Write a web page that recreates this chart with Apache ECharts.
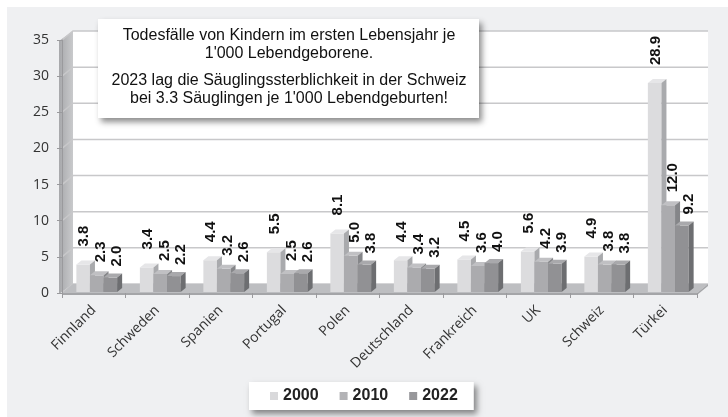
<!DOCTYPE html>
<html>
<head>
<meta charset="utf-8">
<script src="https://cdn.jsdelivr.net/npm/echarts@6/dist/echarts.min.js"></script>
<style>
  html, body { margin: 0; padding: 0; background: #ffffff; }
  #chart { width: 728px; height: 417px; }
</style>
</head>
<body>
<div id="chart"></div>
<script>
// Säuglingssterblichkeit je 1'000 Lebendgeborene
var countries = ['Finnland', 'Schweden', 'Spanien', 'Portugal', 'Polen', 'Deutschland', 'Frankreich', 'UK', 'Schweiz', 'Türkei'];
var years = ['2000', '2010', '2022'];
var values2000 = [3.8, 3.4, 4.4, 5.5, 8.1, 4.4, 4.5, 5.6, 4.9, 28.9];
var values2010 = [2.3, 2.5, 3.2, 2.5, 5.0, 3.4, 3.6, 4.2, 3.8, 12.0];
var values2022 = [2.0, 2.2, 2.6, 2.6, 3.8, 3.2, 4.0, 3.9, 3.8, 9.2];
var yTicks = [0, 5, 10, 15, 20, 25, 30, 35];

var infoLines = [
  "Todesfälle von Kindern im ersten Lebensjahr je",
  "1'000 Lebendgeborene.",
  "2023 lag die Säuglingssterblichkeit in der Schweiz",
  "bei 3.3 Säuglingen je 1'000 Lebendgeburten!"
];

var chart = echarts.init(document.getElementById('chart'))

// 3D-Tiefe der Wand / des Bodens
var WX = 11, WY = -9
// 3D-Tiefe der Säulen
var BX = 5, BY = -4

function renderWall (params, api) {
  var cs = params.coordSys
  var x0 = cs.x, x1 = cs.x + cs.width
  var yb = cs.y + cs.height, yt = cs.y
  var children = []
  // Rückwand
  children.push({
    type: 'rect',
    shape: { x: x0 + WX, y: yt + WY, width: x1 - x0, height: yb - yt },
    style: { fill: '#ffffff' }
  })
  // linke Wand
  children.push({
    type: 'polygon',
    shape: { points: [[x0 - 3, yt + 1], [x0 + WX, yt + WY], [x0 + WX, yb + WY], [x0 - 3, yb + 1]] },
    style: { fill: new echarts.graphic.LinearGradient(0, 0, 1, 0, [
      { offset: 0, color: '#a7a8ab' }, { offset: 1, color: '#c9cacc' }
    ]) }
  })
  // Gitterlinien
  yTicks.forEach(function (t) {
    var y = api.coord([0, t])[1]
    children.push({
      type: 'polyline',
      shape: { points: [[x0, y], [x0 + WX, y + WY], [x1 + WX, y + WY]] },
      style: { stroke: '#c8c8ca', lineWidth: 1.5, fill: null }
    })
  })
  // Boden
  children.push({
    type: 'polygon',
    shape: { points: [[x0, yb], [x0 + WX, yb + WY], [x1 + WX, yb + WY], [x1, yb]] },
    style: { fill: '#bdbec1' }
  })
  children.push({
    type: 'polygon',
    shape: { points: [[x1, yb], [x1 + WX, yb + WY], [x1 + WX, yb + WY + 2], [x1, yb + 2]] },
    style: { fill: '#a4a5a8' }
  })
  children.push({
    type: 'rect',
    shape: { x: x0, y: yb, width: x1 - x0, height: 2 },
    style: { fill: '#a4a5a8' }
  })
  return { type: 'group', children: children }
}

function makeBarRender (slot, front, top, side, labelGap, labelShift) {
  return function (params, api) {
    var idx = api.value(0)
    var val = api.value(1)
    var base = api.coord([idx, 0])
    var tip = api.coord([idx, val])
    var bw = api.size([1, 0])[0] * 0.214
    var left = base[0] + 3 - 1.5 * bw + slot * bw
    var yb = base[1] - 1
    var yt = tip[1] - 1
    return {
      type: 'group',
      children: [
        {
          type: 'rect',
          shape: { x: left, y: yt, width: bw, height: yb - yt },
          style: { fill: front }
        },
        {
          type: 'polygon',
          shape: { points: [[left, yt], [left + BX, yt + BY], [left + bw + BX, yt + BY], [left + bw, yt]] },
          style: { fill: top }
        },
        {
          type: 'polygon',
          shape: { points: [[left + bw, yt], [left + bw + BX, yt + BY], [left + bw + BX, yb + BY], [left + bw, yb]] },
          style: { fill: side }
        },
        {
          type: 'text',
          x: left + bw / 2 + labelShift,
          y: yt + BY - labelGap,
          rotation: Math.PI / 2,
          style: {
            text: val.toFixed(1),
            font: 'bold 15px "Liberation Sans", Arial, sans-serif',
            fill: '#111111',
            align: 'left',
            verticalAlign: 'middle'
          }
        }
      ]
    }
  }
}

function pairs (arr) {
  return arr.map(function (v, i) { return [i, v] })
}

var boxFont = '16px "Liberation Sans", Arial, sans-serif'
function infoText (line, y) {
  return {
    type: 'text',
    zlevel: 1,
    z: 101,
    x: 289,
    y: y,
    style: { text: line, font: boxFont, fill: '#111', align: 'center', verticalAlign: 'middle' }
  }
}

var option = {
  backgroundColor: '#ffffff',
  animation: false,
  graphic: [
    {
      type: 'rect',
      z: -10,
      shape: { x: 7, y: 7, width: 721, height: 410 },
      style: { fill: '#eff0f2' }
    },
    {
      type: 'rect',
      zlevel: 1,
      z: 100,
      shape: { x: 98, y: 19, width: 381, height: 99 },
      style: {
        fill: '#ffffff',
        shadowBlur: 6,
        shadowOffsetX: 3,
        shadowOffsetY: 4,
        shadowColor: 'rgba(0,0,0,0.45)'
      }
    },
    infoText(infoLines[0], 36),
    infoText(infoLines[1], 54),
    infoText(infoLines[2], 81),
    infoText(infoLines[3], 99)
  ],
  legend: {
    data: years,
    left: 249,
    top: 382,
    padding: [6, 16, 6, 21],
    itemWidth: 8,
    itemHeight: 8,
    itemGap: 21,
    icon: 'rect',
    backgroundColor: '#ffffff',
    shadowBlur: 6,
    shadowOffsetX: 3,
    shadowOffsetY: 4,
    shadowColor: 'rgba(0,0,0,0.45)',
    textStyle: {
      fontFamily: '"Liberation Sans", Arial, sans-serif',
      fontWeight: 'bold',
      fontSize: 16,
      color: '#222222'
    },
    selectedMode: false
  },
  grid: {
    left: 62,
    top: 40,
    width: 635,
    height: 253,
    outerBoundsMode: 'none'
  },
  xAxis: {
    type: 'category',
    data: countries,
    axisLine: { show: false },
    axisTick: { show: true, length: 5, lineStyle: { color: '#9a9a9d' } },
    axisLabel: {
      rotate: 45,
      margin: 15,
      interval: 0,
      fontFamily: '"Open Sans", sans-serif',
      fontSize: 14,
      color: '#333333'
    },
    splitLine: { show: false }
  },
  yAxis: {
    type: 'value',
    min: 0,
    max: 35,
    interval: 5,
    axisLine: { show: true, lineStyle: { color: '#9a9a9d' } },
    axisTick: { show: true, length: 5, lineStyle: { color: '#9a9a9d' } },
    axisLabel: {
      margin: 13,
      fontFamily: '"Open Sans", sans-serif',
      fontSize: 14,
      color: '#333333'
    },
    splitLine: { show: false }
  },
  series: [
    {
      name: 'wall',
      type: 'custom',
      silent: true,
      z: 0,
      renderItem: renderWall,
      data: [[0, 0]]
    },
    {
      name: '2000',
      type: 'custom',
      z: 2,
      itemStyle: { color: '#d9d9db' },
      renderItem: makeBarRender(0, '#dcdcde', '#e6e6e8', '#a9aaad', 14, 1),
      data: pairs(values2000)
    },
    {
      name: '2010',
      type: 'custom',
      z: 2,
      itemStyle: { color: '#b3b3b6' },
      renderItem: makeBarRender(1, '#ababae', '#c0c0c3', '#858689', 9, 4.5),
      data: pairs(values2010)
    },
    {
      name: '2022',
      type: 'custom',
      z: 2,
      itemStyle: { color: '#97979a' },
      renderItem: makeBarRender(2, '#919194', '#a9a9ac', '#6d6e71', 7, 7),
      data: pairs(values2022)
    }
  ]
}

chart.setOption(option)
</script>
</body>
</html>
